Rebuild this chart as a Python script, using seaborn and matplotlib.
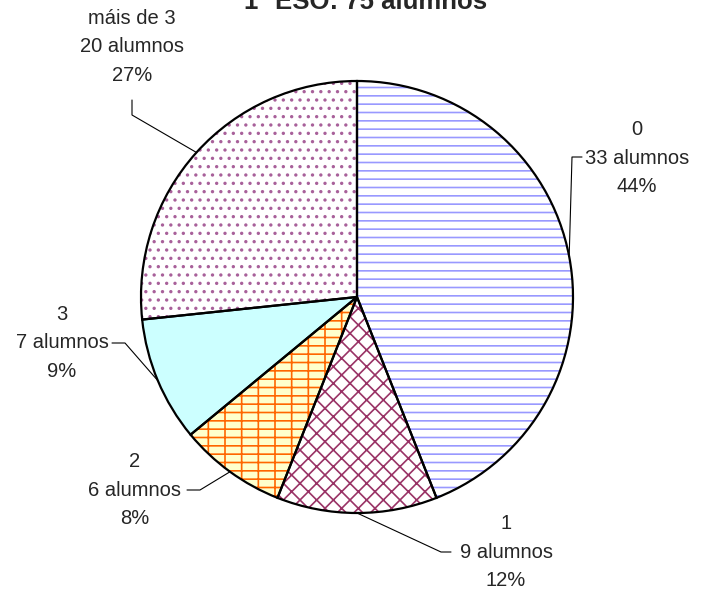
import numpy as np
import matplotlib
matplotlib.use("Agg")
import matplotlib.pyplot as plt
import seaborn as sns
from matplotlib.patches import Wedge

# data
categories = ["0", "1", "2", "3", "máis de 3"]
students = [33, 9, 6, 7, 20]
face_colors = ["#FFFFFF", "#FFFFFF", "#FFFFCC", "#CCFFFF", "#FFFFFF"]
hatch_colors = ["#9999FF", "#993366", "#FF6600", "#CCFFFF", "#A8609A"]
hatches = ["--", "xx", "--|", "", ".."]

# label layout in pixels from the top-left corner
label_pos = [(637, 158), (506, 552), (135, 490), (62, 343), (132, 47)]
leader_kink = [(572, 157), (441, 552), (200, 490), (125, 343), (132, 115)]
leader_end = [(582, 157), (451, 552), (187, 490), (112, 343), (132, 100)]

W, H = 704, 594
total = sum(students)

sns.set_style("white")
plt.rcParams["font.family"] = ["Liberation Sans", "DejaVu Sans"]
plt.rcParams["hatch.linewidth"] = 1.2

fig = plt.figure(figsize=(W / 100, H / 100), dpi=100)
ax = fig.add_axes([0, 0, 1, 1])

center = (357, H - 297)
radius = 216
wedges, _ = ax.pie(students, startangle=90, counterclock=False,
                   center=center, radius=radius, colors=face_colors,
                   wedgeprops=dict(linewidth=0))

for w, hc, h in zip(wedges, hatch_colors, hatches):
    if h:
        ax.add_patch(Wedge(w.center, w.r, w.theta1, w.theta2,
                           facecolor="none", edgecolor=hc, linewidth=0,
                           hatch=h))
for w in wedges:
    ax.add_patch(Wedge(w.center, w.r, w.theta1, w.theta2, fill=False,
                       edgecolor="black", linewidth=1.6, zorder=3))

for i, w in enumerate(wedges):
    mid = np.deg2rad((w.theta1 + w.theta2) / 2)
    ex = center[0] + radius * np.cos(mid)
    ey = center[1] + radius * np.sin(mid)
    kx, ky = leader_kink[i]
    tx, ty = leader_end[i]
    ax.plot([ex, kx, tx], [ey, H - ky, H - ty], color="black", lw=0.8,
            zorder=4)
    pct = round(100 * students[i] / total)
    lx, ly = label_pos[i]
    ax.text(lx, H - ly, f"{categories[i]}\n{students[i]} alumnos\n{pct}%",
            ha="center", va="center", fontsize=14.5, linespacing=1.65,
            multialignment="center")

ax.text(366, H - 9, f"1º ESO: {total} alumnos", ha="center",
        va="baseline", fontsize=18.5, fontweight="bold")

ax.set_xlim(0, W)
ax.set_ylim(0, H)
ax.axis("off")

fig.savefig("out.png", dpi=100)
